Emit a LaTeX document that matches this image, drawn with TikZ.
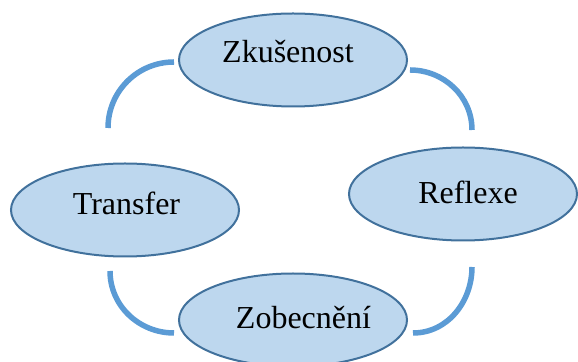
\documentclass[tikz,border=0pt]{standalone}
\usepackage{fontspec}
\setmainfont{Liberation Serif}
\usetikzlibrary{calc,shapes.geometric}

\definecolor{ovalfill}{RGB}{189,215,238}
\definecolor{ovaldraw}{RGB}{65,113,156}
\definecolor{arcblue}{RGB}{91,155,213}

\begin{document}
\begin{tikzpicture}[x=0.5pt,y=0.5pt,
	oval/.style={ellipse,fill=ovalfill,draw=ovaldraw,line width=1pt,inner sep=0pt,minimum width=114pt,minimum height=46.5pt},
	word/.style={anchor=base,inner sep=0pt,font=\fontsize{16}{19}\selectfont},
	cycarc/.style={draw=arcblue,line width=2.75pt}
	]

	\useasboundingbox (0,0) rectangle (578,-362);

	\node[oval] (zk) at (293,-60) {};
	\node[oval] (rf) at (463,-194) {};
	\node[oval] (zb) at (293,-320) {};
	\node[oval] (tr) at (125,-210) {};

	\node[word] (zk-t) at (288,-63) {Zkušenost};
	\node[word] (rf-t) at (468,-204) {Reflexe};
	\node[word] (zb-t) at (303.5,-329) {Zobecnění};
	\node[word] (tr-t) at (126.5,-215) {Transfer};

	\coordinate (c1) at (108,-128);
	\coordinate (c2) at (472,-130);
	\coordinate (c3) at (472,-267);
	\coordinate (c4) at (110,-271);

	\draw[cycarc] (c1) to[out=90,in=180] ([xshift=-2pt,yshift=-1pt]zk.west);
	\draw[cycarc] ([xshift=1pt,yshift=-5pt]zk.east) to[out=0,in=90] (c2);
	\draw[cycarc] (c3) to[out=-90,in=0] ([xshift=2.5pt,yshift=-6.5pt]zb.east);
	\draw[cycarc] (c4) to[out=-90,in=180] ([xshift=-2pt,yshift=-6.5pt]zb.west);

\end{tikzpicture}
\end{document}
